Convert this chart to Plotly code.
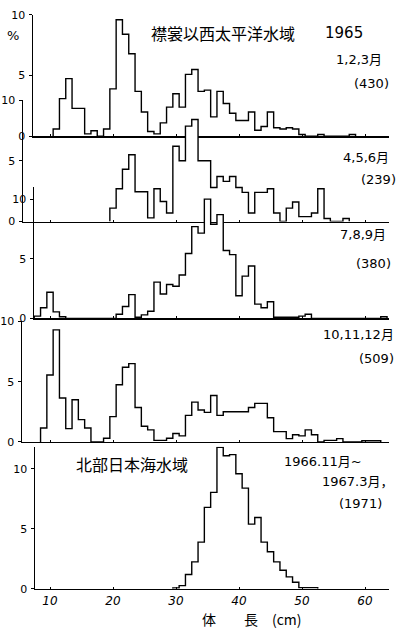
import plotly.graph_objects as go

W, H = 405, 636

# ---------------- data: % frequency per 1-cm body-length class (class centre, cm)
p1_start = 11   # 襟裳以西太平洋水域 1965, 1,2,3月 (430)
p1_pct = [0.6, 3.1, 4.75, 2.3, 2.3, 0.2, 0.45, 0, 0.6, 3.9,
          9.6, 8.4, 6.8, 3.7, 2.0, 0.4, 0.2, 1.1, 2.4, 3.5,
          2.4, 5.1, 5.5, 3.7, 3.8, 1.6, 3.7, 2.7, 1.9, 1.3,
          1.3, 2.0, 0.5, 0.8, 2.0, 0.7, 0.6, 0.7, 0.6, 0.15,
          0, 0, 0.15, 0, 0, 0, 0, 0.15]

p2_start = 20   # 4,5,6月 (239)
p2_pct = [1.1, 2.7, 4.3, 5.5, 2.45, 2.45, 0.3, 2.7, 1.65, 0.7,
          6.2, 5.0, 7.85, 8.4, 5.0, 5.0, 2.8, 3.7, 3.3, 3.7,
          2.8, 2.4, 0.7, 2.4, 2.4, 2.7, 0.7, 0, 1.1, 1.6,
          0.4, 0.4, 0.7, 2.7, 0.25, 0, 0, 0.25]

p3_start = 8    # 7,8,9月 (380)
p3_pct = [0.2, 0.9, 2.2, 0.55, 0.15, 0, 0, 0, 0, 0,
          0, 0, 0, 0.35, 1.0, 2.0, 0.1, 0.3, 0.6, 3.05,
          2.05, 2.85, 2.7, 3.65, 5.45, 7.7, 7.15, 10.0, 7.9, 8.7,
          5.7, 5.35, 1.9, 3.55, 4.4, 1.2, 0.9, 1.4, 0.1, 0.1,
          0.1, 0.1, 0.2, 0.35, 0, 0, 0, 0, 0, 0,
          0, 0, 0, 0, 0, 0.15]

p4_start = 9    # 10,11,12月 (509)
p4_pct = [1.15, 5.55, 9.3, 3.65, 1.1, 3.5, 1.85, 1.15, 0, 0,
          0.3, 2.1, 4.75, 6.2, 6.5, 2.85, 1.3, 1.0, 0.13, 0.13,
          0.3, 0.7, 0.5, 2.2, 3.3, 2.65, 2.45, 3.85, 2.2, 2.5,
          2.5, 2.5, 2.5, 2.85, 3.2, 3.2, 2.0, 0.85, 0.85, 0.27,
          0.6, 0.5, 1.0, 0.6, 0, 0.13, 0.13, 0.27, 0, 0,
          0, 0.1, 0.1, 0.1]

p5_start = 30   # 北部日本海水域 1966.11月~1967.3月 (1971)
p5_pct = [0.08, 0.27, 1.2, 2.25, 3.9, 6.8, 8.05, 11.8, 11.1, 11.2,
          9.6, 8.4, 5.4, 5.95, 3.9, 3.1, 2.25, 1.55, 1.0, 0.55,
          0.1, 0.1, 0.1]

x_ticks = [10, 20, 30, 40, 50, 60]
y_ticks = [0, 5, 10]

series = [(p1_start, p1_pct), (p2_start, p2_pct), (p3_start, p3_pct),
          (p4_start, p4_pct), (p5_start, p5_pct)]

# ---------------- geometry (pixels of the 405x636 page)
PX10, PXCM, XR = 50.0, 6.3, 389.0
# (x of y-axis, y of baseline, y of axis top, % at axis top)
geom = [(33, 133, 9, 10.0),
        (23, 220, 96, 10.0),
        (34, 319, 185, 11.0),
        (22, 445, 322, 10.0),
        (35, 595, 450, 11.85)]


def cm_at(px):
    return 10 + (px - PX10) / PXCM


def fx(px):
    return px / W


def fy(py):
    return 1 - py / H


FONT = "DejaVu Sans, Noto Sans CJK JP"
JFONT = "Noto Sans CJK JP, DejaVu Sans"

fig = go.Figure()
layout = dict(width=W, height=H, margin=dict(l=0, r=0, t=0, b=0),
              paper_bgcolor="white", plot_bgcolor="rgba(0,0,0,0)",
              showlegend=False, font=dict(family=FONT, color="black"))

for i, ((start, vals), (ax_px, base, top, ymax)) in enumerate(zip(series, geom), 1):
    centres = [start + k for k in range(len(vals))]
    edges = [c - 0.5 for c in centres] + [centres[-1] + 0.5]
    xs = [edges[0]] + edges[:-1] + [edges[-1], edges[-1]]
    ys = [0] + list(vals) + [vals[-1], 0]
    sfx = "" if i == 1 else str(i)
    fig.add_trace(go.Scatter(x=xs, y=ys, mode="lines", line_shape="hv",
                             line=dict(color="black", width=1.4),
                             fill="tozeroy", fillcolor="white",
                             xaxis="x" + sfx, yaxis="y" + sfx,
                             hoverinfo="skip"))
    layout["xaxis" + sfx] = dict(
        domain=[fx(ax_px), fx(XR)], range=[cm_at(ax_px), cm_at(XR)],
        anchor="y" + sfx, showline=True, linecolor="black", linewidth=1.5,
        showgrid=False, zeroline=False, ticks="inside", ticklen=2,
        tickwidth=1, tickcolor="black", tickvals=x_ticks,
        showticklabels=(i == 5),
        tickfont=dict(size=12, family="DejaVu Sans", style="italic"))
    layout["yaxis" + sfx] = dict(
        domain=[fy(base), fy(top)], range=[0, ymax], anchor="x" + sfx,
        showline=True, linecolor="black", linewidth=1.5, showgrid=False,
        zeroline=False, ticks="outside", ticklen=3, tickwidth=1,
        tickcolor="black", tickvals=y_ticks, ticklabelstandoff=1,
        tickfont=dict(size=11, family="DejaVu Sans"))

ann = []


def add(text, x, y, size=13, xanchor="center", fam=FONT):
    ann.append(dict(text=text, x=fx(x), y=fy(y), xref="paper", yref="paper",
                    showarrow=False, xanchor=xanchor, yanchor="middle",
                    font=dict(size=size, family=fam, color="black")))


add("%", 13, 30, 13)
add("襟裳以西太平洋水域", 223, 28, 16, fam=JFONT)
add("1965", 344, 28, 15)
add("1,2,3月", 384, 55, 13, "right")
add("(430)", 391, 79, 13, "right")
add("4,5,6月", 391, 155, 13, "right")
add("(239)", 398, 177, 13, "right")
add("7,8,9月", 388, 233, 13, "right")
add("(380)", 393, 263, 13, "right")
add("10,11,12月", 396, 335, 13, "right")
add("(509)", 396, 360, 13, "right")
add("北部日本海水域", 132, 468, 16, fam=JFONT)
add("1966.11月~", 282, 465, 13, "left")
add("1967.3月，", 320, 485, 13, "left")
add("(1971)", 360, 508, 13)
add("体　　長　(cm)", 252, 626, 14, fam=JFONT)

layout["annotations"] = ann
fig.update_layout(**layout)
fig.write_html("out.html",
               config={"displayModeBar": False, "staticPlot": True},
               post_script="document.body.style.margin='0';"
                           "document.body.style.padding='0';"
                           "document.body.style.overflow='hidden';")
